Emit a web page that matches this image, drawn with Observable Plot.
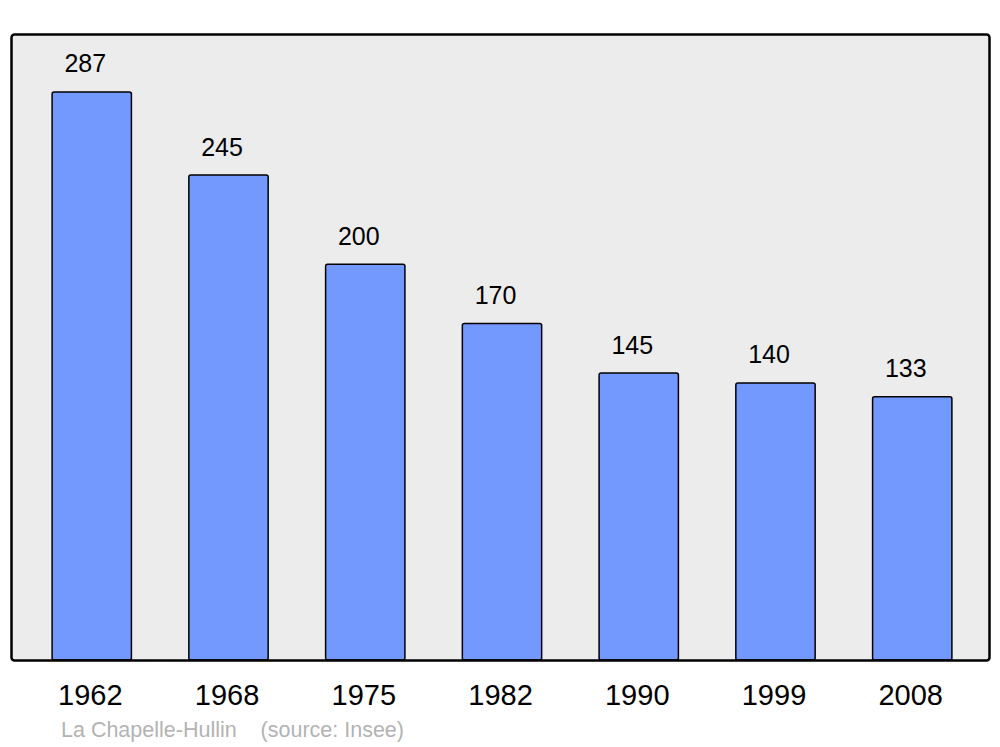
<!DOCTYPE html>
<html>
<head>
<meta charset="utf-8">
<script src="https://cdn.jsdelivr.net/npm/d3@7"></script>
<script src="https://cdn.jsdelivr.net/npm/@observablehq/plot@0.6"></script>
<style>
  body { margin: 0; background: #fff; font-family: "Liberation Sans", Arial, sans-serif; }
  #caption { position: absolute; left: 61px; top: 716px; font-size: 21.5px; color: #b3b3b3; white-space: pre; line-height: 28px; }
</style>
</head>
<body>
<div id="chart"></div>
<div id="caption">La Chapelle-Hullin    (source: Insee)</div>
<script>
const years = ["1962", "1968", "1975", "1982", "1990", "1999", "2008"];
const population = [287, 245, 200, 170, 145, 140, 133];

const data = years.map((y, i) => ({year: y, pop: population[i]}));

const chart = Plot.plot({
  width: 1000,
  height: 715,
  marginTop: 34,
  marginBottom: 55,
  marginLeft: 11,
  marginRight: 11,
  style: {fontFamily: "Liberation Sans, Arial, sans-serif", background: "#fff"},
  x: {domain: years, range: [13, 991], round: false, paddingInner: 0.42, paddingOuter: 0.286, label: null},
  y: {domain: [0, 316.3], axis: null},
  marks: [
    Plot.frame({fill: "#ececec", stroke: "none"}),
    Plot.barY(data, {x: "year", y: "pop", fill: "#7399ff", stroke: "#000", strokeWidth: 1.5, rx: 2}),
    Plot.text(data, {x: "year", y: "pop", text: d => String(d.pop), dy: -28, dx: -7, fontSize: 25, fill: "#000"}),
    Plot.frame({stroke: "#000", strokeWidth: 2.5, rx: 3}),
    Plot.axisX({tickSize: 0, tickPadding: 24, dx: -2, fontSize: 29, label: null, color: "#000"})
  ]
});
document.getElementById("chart").appendChild(chart);
</script>
</body>
</html>
